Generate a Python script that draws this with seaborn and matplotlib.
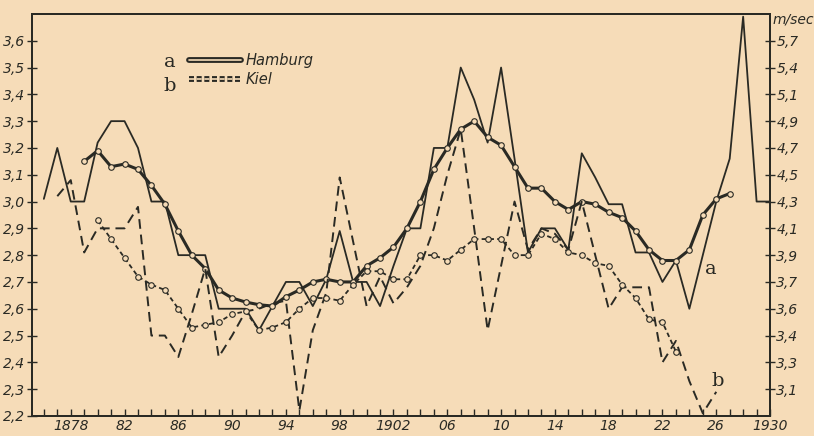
import pandas as pd
import seaborn as sns
import matplotlib.pyplot as plt
import matplotlib.patheffects as pe
from matplotlib.lines import Line2D
from matplotlib.ticker import MultipleLocator

# annual wind speed, Hamburg (a) and Kiel (b), plus smoothed curves
hamburg_years = list(range(1876, 1931))
hamburg = [
    3.01, 3.2, 3.0, 3.0, 3.22, 3.3, 3.3, 3.2, 3.0, 3.0,
    2.8, 2.8, 2.8, 2.6, 2.6, 2.6, 2.52, 2.61, 2.7, 2.7,
    2.61, 2.71, 2.89, 2.7, 2.7, 2.61, 2.76, 2.9, 2.9, 3.2,
    3.2, 3.5, 3.38, 3.22, 3.5, 3.16, 2.81, 2.9, 2.9, 2.82,
    3.18, 3.09, 2.99, 2.99, 2.81, 2.81, 2.7, 2.78, 2.6, 2.8,
    3.0, 3.16, 3.69, 3.0, 3.0
]

hamburg_smooth_years = list(range(1879, 1928))
hamburg_smooth = [
    3.15, 3.19, 3.13, 3.14, 3.12, 3.06, 2.99, 2.89, 2.8, 2.75,
    2.67, 2.64, 2.625, 2.615, 2.61, 2.645, 2.67, 2.7, 2.71, 2.7,
    2.7, 2.76, 2.79, 2.83, 2.9, 3.0, 3.12, 3.2, 3.27, 3.3,
    3.24, 3.21, 3.13, 3.05, 3.05, 3.0, 2.97, 3.0, 2.99, 2.96,
    2.94, 2.89, 2.82, 2.78, 2.78, 2.82, 2.95, 3.01, 3.03
]

kiel_years = list(range(1877, 1927))
kiel = [
    3.02, 3.08, 2.81, 2.9, 2.9, 2.9, 2.98, 2.5, 2.5, 2.42,
    2.58, 2.75, 2.42, 2.5, 2.59, 2.6, 2.62, 2.63, 2.22, 2.52,
    2.66, 3.09, 2.85, 2.61, 2.72, 2.62, 2.68, 2.76, 2.9, 3.1,
    3.27, 2.9, 2.52, 2.76, 3.0, 2.82, 2.9, 2.88, 2.82, 3.0,
    2.8, 2.6, 2.68, 2.68, 2.68, 2.4, 2.48, 2.33, 2.21, 2.29
]

kiel_smooth_years = list(range(1880, 1924))
kiel_smooth = [
    2.93, 2.86, 2.79, 2.72, 2.69, 2.67, 2.6, 2.53, 2.54, 2.55,
    2.58, 2.59, 2.52, 2.53, 2.55, 2.6, 2.64, 2.64, 2.63, 2.69,
    2.74, 2.74, 2.71, 2.71, 2.8, 2.8, 2.78, 2.82, 2.86, 2.86,
    2.86, 2.8, 2.8, 2.88, 2.86, 2.81, 2.8, 2.77, 2.76, 2.69,
    2.64, 2.56, 2.55, 2.44
]

left_ticks = [2.2, 2.3, 2.4, 2.5, 2.6, 2.7, 2.8, 2.9, 3.0, 3.1, 3.2, 3.3, 3.4, 3.5, 3.6]
left_labels = ["2,2", "2,3", "2,4", "2,5", "2,6", "2,7", "2,8", "2,9",
               "3,0", "3,1", "3,2", "3,3", "3,4", "3,5", "3,6"]
right_ticks = [2.3, 2.4, 2.5, 2.6, 2.7, 2.8, 2.9, 3.0, 3.1, 3.2, 3.3, 3.4, 3.5, 3.6]
right_labels = ["3,1", "3,3", "3,4", "3,6", "3,7", "3,9", "4,1",
                "4,3", "4,5", "4,7", "4,9", "5,1", "5,4", "5,7"]
x_ticks = list(range(1878, 1931, 4))
x_labels = ["1878", "82", "86", "90", "94", "98", "1902",
            "06", "10", "14", "18", "22", "26", "1930"]

paper = "#f6dcb8"
ink = "#2a2a24"

sns.set_style("ticks")
plt.rcParams["font.family"] = ["DejaVu Sans"]

fig = plt.figure(figsize=(8.14, 4.36), dpi=100, facecolor=paper)
ax = fig.add_axes([0.039, 0.046, 0.907, 0.922])
ax.set_facecolor(paper)

sns.lineplot(x=hamburg_years, y=hamburg, ax=ax, color=ink, linewidth=1.3)

sns.lineplot(
    x=hamburg_smooth_years, y=hamburg_smooth, ax=ax,
    color=ink, linewidth=2.2,
    marker="o", markersize=4, markerfacecolor=paper,
    markeredgecolor=ink, markeredgewidth=0.8
)

sns.lineplot(
    x=kiel_years, y=kiel, ax=ax,
    color=ink, linewidth=1.4, dashes=False
)
ax.lines[-1].set_dashes([5, 3])

sns.lineplot(
    x=kiel_smooth_years, y=kiel_smooth, ax=ax,
    color=ink, linewidth=1.3,
    marker="o", markersize=4, markerfacecolor=paper,
    markeredgecolor=ink, markeredgewidth=0.8
)
ax.lines[-1].set_dashes([2.5, 1.8])

ax.set_xlim(1875.1, 1930)
ax.set_ylim(2.2, 3.7)

ax.set_xticks(x_ticks)
ax.set_xticklabels(x_labels, fontsize=10, style="italic", color=ink)
ax.xaxis.set_minor_locator(MultipleLocator(1))
ax.tick_params(axis="x", which="both", direction="in", length=5,
               width=1, color=ink, pad=2)

ax.set_yticks(left_ticks)
ax.set_yticklabels(left_labels, fontsize=10, style="italic", color=ink)
ax.tick_params(axis="y", direction="inout", length=7, width=1,
               color=ink, pad=1)

ax2 = ax.twinx()
ax2.set_ylim(2.2, 3.7)
ax2.set_yticks(right_ticks)
ax2.set_yticklabels(right_labels, fontsize=10, style="italic", color=ink)
ax2.tick_params(axis="y", direction="inout", length=7, width=1,
                color=ink, pad=1)

for a in (ax, ax2):
    for s in a.spines.values():
        s.set_visible(True)
        s.set_color(ink)
        s.set_linewidth(1.4)

ax.set_xlabel("")
ax.set_ylabel("")

ax2.text(1.004, 0.985, "m/sec", transform=ax.transAxes, fontsize=10,
         style="italic", color=ink, ha="left", va="center")

# legend: a = Hamburg (double solid), b = Kiel (double dashed)
h_handle = Line2D([], [], color=paper, linewidth=1.2,
                  path_effects=[pe.Stroke(linewidth=4.2, foreground=ink), pe.Normal()])
k_handle = Line2D([], [], color=paper, linewidth=1.2, linestyle=(0, (3, 1.6)),
                  path_effects=[pe.Stroke(linewidth=4.2, foreground=ink), pe.Normal()])
leg = ax.legend(
    [h_handle, k_handle], ["Hamburg", "Kiel"],
    loc="upper left", bbox_to_anchor=(0.195, 0.935),
    frameon=False, handlelength=3.6, handletextpad=0.3,
    labelspacing=0.25, prop={"size": 10.5, "style": "italic"}
)
for t in leg.get_texts():
    t.set_color(ink)

ax.text(0.187, 0.88, "a", transform=ax.transAxes, fontsize=14,
        family="DejaVu Serif", color=ink, ha="center", va="center")
ax.text(0.187, 0.822, "b", transform=ax.transAxes, fontsize=14,
        family="DejaVu Serif", color=ink, ha="center", va="center")

# curve labels near the right end
ax.text(1925.6, 2.75, "a", fontsize=14, family="DejaVu Serif", color=ink,
        ha="center", va="center")
ax.text(1926.1, 2.33, "b", fontsize=14, family="DejaVu Serif", color=ink,
        ha="center", va="center")

fig.savefig("out.png", dpi=100, facecolor=paper)
